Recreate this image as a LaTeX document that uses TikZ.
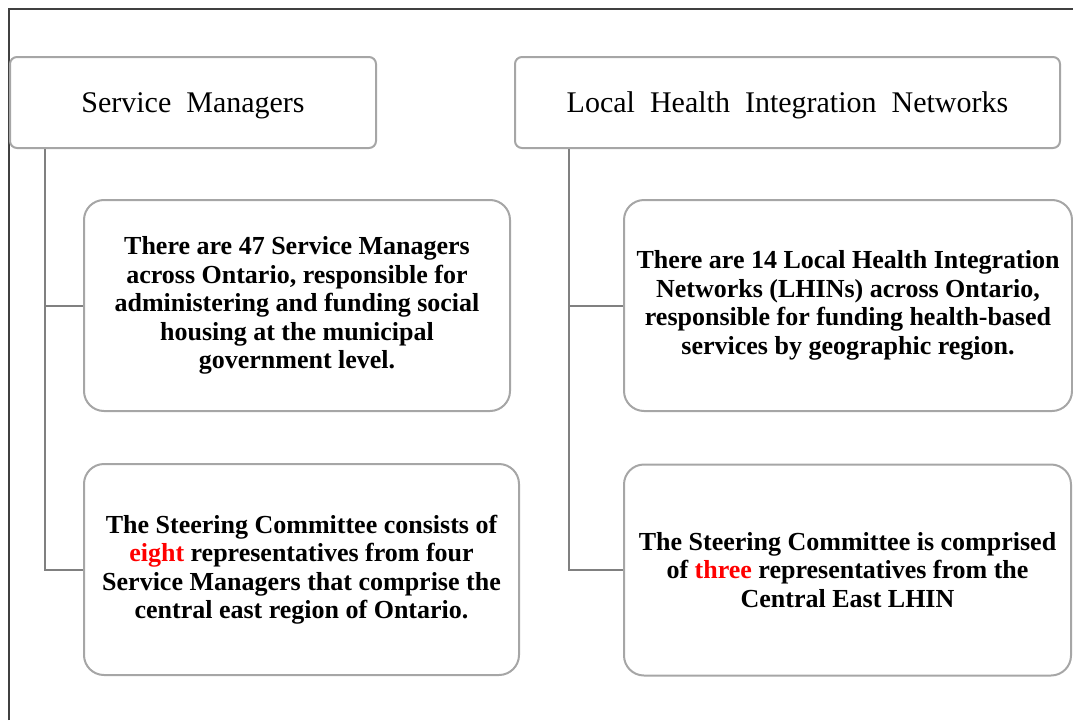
\documentclass[tikz,border=0pt]{standalone}
\usepackage{fontspec}
\setmainfont{Liberation Serif}
\newfontfamily\headfont{Liberation Serif}[WordSpace=2]
\usepackage{tikz}
\usetikzlibrary{positioning}
\definecolor{boxgray}{RGB}{166,166,166}
\definecolor{linegray}{RGB}{128,128,128}
\definecolor{framegray}{RGB}{64,64,64}
\tikzstyle{head}=[draw=boxgray,line width=2pt,rounded corners=7pt,inner sep=0pt,
               minimum height=91pt,text height=22pt,text depth=3pt,
               font=\headfont\fontsize{30}{34}\selectfont]
\tikzstyle{info}=[draw=boxgray,line width=2pt,rounded corners=20pt,inner sep=0pt,
               minimum height=211pt,align=center,
               font=\bfseries\fontsize{26}{28.5}\selectfont]
\tikzstyle{link}=[draw=linegray,line width=2pt]

\begin{document}
\begin{tikzpicture}[x=1pt,y=-1pt]
\useasboundingbox (0,0) rectangle (1073,720);
\draw [framegray,line width=1.5pt] (9,720) -- (9,9) -- (1073,9);
% headers
\node [head,minimum width=366pt] (sm) at (193,102.5) {Service Managers};
\node [head,minimum width=545pt] (lhin) at (787.5,102.5) {Local Health Integration Networks};
% left column
\node [info,minimum width=426pt] (smA) at (297,305.5)
  {There are 47 Service Managers\\across Ontario, responsible for\\administering and funding social\\housing at the municipal\\government level.};
\node [info,minimum width=435pt] (smB) at (301.5,569.5)
  {The Steering Committee consists of\\\textcolor{red}{eight} representatives from four\\Service Managers that comprise the\\central east region of Ontario.};
% right column
\node [info,minimum width=448pt] (lhinA) at (848,305.5)
  {There are 14 Local Health Integration\\Networks (LHINs) across Ontario,\\responsible for funding health-based\\services by geographic region.};
\node [info,minimum width=447pt] (lhinB) at (847.5,570)
  {The Steering Committee is comprised\\of \textcolor{red}{three} representatives from the\\Central East LHIN};
% connectors
\coordinate (smT) at ([xshift=36pt]sm.south west);
\coordinate (lhinT) at ([xshift=55pt]lhin.south west);
\draw [link] (smT) |- (smA.west);
\draw [link] (smT) |- (smB.west);
\draw [link] (lhinT) |- (lhinA.west);
\draw [link] (lhinT) |- (lhinB.west);
\end{tikzpicture}
\end{document}
